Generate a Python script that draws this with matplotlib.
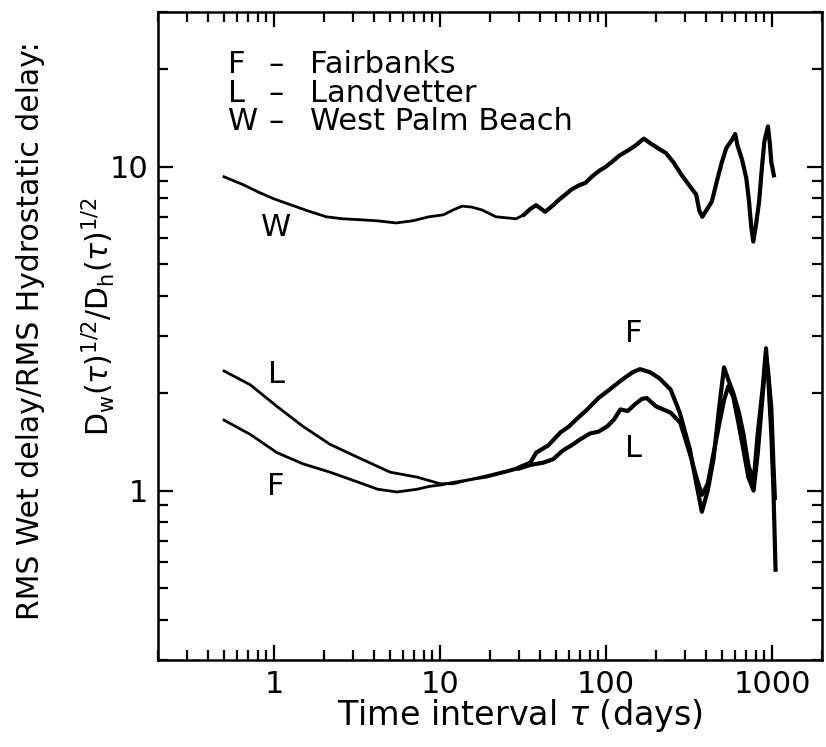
import numpy as np
import matplotlib
matplotlib.use('Agg')
import matplotlib.pyplot as plt
from matplotlib.ticker import LogLocator, NullFormatter, FixedLocator, FixedFormatter

plt.rcParams['font.family'] = ['DejaVu Sans']
plt.rcParams['mathtext.fontset'] = 'dejavusans'

# West Palm Beach
tau_w = [0.5, 0.65, 0.81, 1.0, 1.28, 1.6, 2.06, 2.6, 3.39, 4.2, 5.43, 6.8, 8.6, 10.5, 12, 13.6,
         15.5, 17.9, 21.7, 25, 28.7, 32, 35, 37.9, 43, 48, 52, 57, 62, 68.6, 75, 82, 90.7, 100,
         110, 120, 135, 150, 169, 185, 200, 230, 255, 286, 320, 349, 365, 380, 400, 434, 465,
         498, 530, 574, 600, 620, 660, 700, 727, 750, 771, 800, 836, 870, 900, 945, 970, 990,
         1010, 1025]
val_w = [9.3, 8.8, 8.33, 7.95, 7.6, 7.3, 7.0, 6.9, 6.85, 6.8, 6.7, 6.8, 7.0, 7.1, 7.35, 7.55,
         7.5, 7.35, 7.0, 6.95, 6.9, 7.1, 7.4, 7.6, 7.25, 7.6, 7.9, 8.2, 8.5, 8.75, 8.9, 9.3, 9.7, 10.0,
         10.4, 10.8, 11.2, 11.6, 12.2, 11.8, 11.5, 11.0, 10.3, 9.4, 8.7, 8.2, 7.3, 7.0, 7.3, 7.8, 9.0,
         10.3, 11.4, 12.1, 12.6, 11.6, 10.5, 9.2, 7.8, 6.5, 5.87, 6.6, 7.8, 10.0, 12.0, 13.3, 11.8, 10.3,
         9.8, 9.4]

# Fairbanks
tau_f = [0.5, 0.72, 1.04, 1.49, 2.17, 3.16, 4.2, 5.5, 7.3, 8.6, 10, 12, 15, 19, 25, 30, 35, 38,
         45, 53, 60, 68, 77, 90, 105, 125, 145, 160, 184, 210, 245, 278, 320, 350, 378, 410, 444,
         480, 514, 545, 584, 630, 670, 720, 774, 820, 880, 920, 950, 990, 1020, 1050]
val_f = [1.65, 1.49, 1.31, 1.21, 1.14, 1.065, 1.01, 0.99, 1.01, 1.03, 1.04, 1.06, 1.08, 1.11, 1.15,
         1.18, 1.22, 1.31, 1.38, 1.51, 1.58, 1.68, 1.78, 1.93, 2.05, 2.2, 2.32, 2.37, 2.32, 2.22, 2.05,
         1.74, 1.34, 1.05, 0.86, 1.0, 1.25, 1.8, 2.4, 2.2, 2.0, 1.75, 1.51, 1.2, 1.06, 1.5, 2.09, 2.75,
         2.2, 1.5, 1.0, 0.57]

# Landvetter
tau_l = [0.5, 0.72, 1.04, 1.49, 2.17, 3.16, 5.0, 7.3, 10, 12, 15, 19, 25, 30, 35, 42, 48, 55, 62,
         70, 80, 90, 102, 112, 122, 135, 150, 165, 176, 200, 245, 280, 320, 350, 378, 410, 444, 480,
         514, 545, 584, 630, 670, 720, 774, 820, 880, 920, 950, 990, 1020, 1040]
val_l = [2.34, 2.12, 1.82, 1.58, 1.39, 1.27, 1.14, 1.10, 1.05, 1.05, 1.08, 1.10, 1.14, 1.17, 1.20,
         1.22, 1.25, 1.33, 1.38, 1.44, 1.5, 1.52, 1.58, 1.66, 1.78, 1.76, 1.85, 1.92, 1.93, 1.82, 1.74,
         1.62, 1.3, 1.1, 0.97, 1.05, 1.3, 1.6, 1.9, 2.1, 1.95, 1.6, 1.35, 1.1, 1.0, 1.3, 2.0, 2.6, 2.3,
         1.8, 1.2, 0.95]

key_letters = ['F', 'L', 'W']
key_names = ['Fairbanks', 'Landvetter', 'West Palm Beach']

fig = plt.figure(figsize=(8.26, 7.47), dpi=100)
ax = fig.add_axes([158 / 826, 1 - 660 / 747, 664 / 826, 648 / 747])

for t, v in [(tau_w, val_w), (tau_f, val_f), (tau_l, val_l)]:
    t = np.array(t)
    v = np.array(v)
    ax.plot(t, v, color='black', lw=2.0)
    # the noisy long-interval part prints heavier
    right = t >= 30
    ax.plot(t[right], v[right], color='black', lw=3.0, solid_joinstyle='round')

ax.set_xscale('log')
ax.set_yscale('log')
ax.set_xlim(0.2, 2000)
ax.set_ylim(0.3, 30)

ax.xaxis.set_major_locator(FixedLocator([1, 10, 100, 1000]))
ax.xaxis.set_major_formatter(FixedFormatter(['1', '10', '100', '1000']))
ax.yaxis.set_major_locator(FixedLocator([1, 10]))
ax.yaxis.set_major_formatter(FixedFormatter(['1', '10']))
for axis in (ax.xaxis, ax.yaxis):
    axis.set_minor_locator(LogLocator(base=10, subs=np.arange(2, 10), numticks=20))
    axis.set_minor_formatter(NullFormatter())

ax.tick_params(which='both', direction='in', top=True, right=True, width=1.6, labelsize=22, pad=7)
ax.tick_params(which='major', length=11)
ax.tick_params(which='minor', length=7)
for s in ax.spines.values():
    s.set_linewidth(1.8)

fig.text(520 / 826, 1 - 715 / 747, r'Time interval $\tau$ (days)',
         ha='center', va='center', fontsize=24)

fig.text(31 / 826, 1 - 331 / 747, 'RMS Wet delay/RMS Hydrostatic delay:',
         rotation=90, ha='center', va='center', fontsize=21.5)
fig.text(98 / 826, 1 - 317 / 747,
         r'D$_\mathrm{w}$($\tau$)$^{1/2}$/D$_\mathrm{h}$($\tau$)$^{1/2}$',
         rotation=90, ha='center', va='center', fontsize=21.5)

# key: three aligned columns
kw = dict(transform=ax.transAxes, va='top', fontsize=22, linespacing=0.98)
ax.text(0.105, 0.941, '\n'.join(key_letters), ha='left', **kw)
ax.text(0.178, 0.941, '\n'.join(['–'] * len(key_letters)), ha='center', **kw)
ax.text(0.229, 0.941, '\n'.join(key_names), ha='left', **kw)

# curve labels
ax.text(1.03, 6.5, 'W', ha='center', va='center', fontsize=22)
ax.text(1.03, 2.29, 'L', ha='center', va='center', fontsize=22)
ax.text(1.03, 1.03, 'F', ha='center', va='center', fontsize=22)
ax.text(147, 3.05, 'F', ha='center', va='center', fontsize=22)
ax.text(147, 1.35, 'L', ha='center', va='center', fontsize=22)

fig.savefig('out.png', dpi=100)
